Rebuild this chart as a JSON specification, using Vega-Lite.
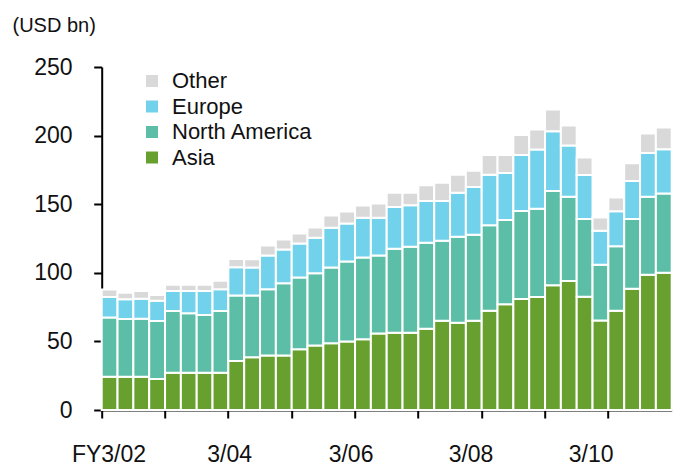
{
  "$schema": "https://vega.github.io/schema/vega-lite/v6.json",
  "autosize": {"type": "none"},
  "padding": {"left": 101.7, "top": 67, "right": 1.3, "bottom": 54},
  "width": 570,
  "height": 343,
  "background": "white",
  "config": {
    "view": {"stroke": null},
    "font": "Liberation Sans",
    "axis": {
      "domainColor": "#000000",
      "domainWidth": 2,
      "tickColor": "#000000",
      "tickWidth": 2,
      "labelColor": "#111111",
      "labelFont": "Liberation Sans",
      "grid": false
    }
  },
  "datasets": {
    "exports": [
      {"q": 0, "region": "Asia", "value": 24.3}, {"q": 0, "region": "North America", "value": 43.2}, {"q": 0, "region": "Europe", "value": 14.8}, {"q": 0, "region": "Other", "value": 5.6},
      {"q": 1, "region": "Asia", "value": 24.3}, {"q": 1, "region": "North America", "value": 42.0}, {"q": 1, "region": "Europe", "value": 14.5}, {"q": 1, "region": "Other", "value": 4.6},
      {"q": 2, "region": "Asia", "value": 24.3}, {"q": 2, "region": "North America", "value": 42.2}, {"q": 2, "region": "Europe", "value": 14.5}, {"q": 2, "region": "Other", "value": 5.7},
      {"q": 3, "region": "Asia", "value": 22.6}, {"q": 3, "region": "North America", "value": 42.2}, {"q": 3, "region": "Europe", "value": 14.8}, {"q": 3, "region": "Other", "value": 4.2},
      {"q": 4, "region": "Asia", "value": 27.2}, {"q": 4, "region": "North America", "value": 44.9}, {"q": 4, "region": "Europe", "value": 14.6}, {"q": 4, "region": "Other", "value": 4.6},
      {"q": 5, "region": "Asia", "value": 27.2}, {"q": 5, "region": "North America", "value": 43.4}, {"q": 5, "region": "Europe", "value": 16.1}, {"q": 5, "region": "Other", "value": 4.6},
      {"q": 6, "region": "Asia", "value": 27.2}, {"q": 6, "region": "North America", "value": 42.0}, {"q": 6, "region": "Europe", "value": 17.5}, {"q": 6, "region": "Other", "value": 4.6},
      {"q": 7, "region": "Asia", "value": 27.2}, {"q": 7, "region": "North America", "value": 44.9}, {"q": 7, "region": "Europe", "value": 16.0}, {"q": 7, "region": "Other", "value": 6.1},
      {"q": 8, "region": "Asia", "value": 35.7}, {"q": 8, "region": "North America", "value": 47.8}, {"q": 8, "region": "Europe", "value": 20.5}, {"q": 8, "region": "Other", "value": 6.0},
      {"q": 9, "region": "Asia", "value": 38.4}, {"q": 9, "region": "North America", "value": 45.0}, {"q": 9, "region": "Europe", "value": 20.5}, {"q": 9, "region": "Other", "value": 6.0},
      {"q": 10, "region": "Asia", "value": 39.8}, {"q": 10, "region": "North America", "value": 48.3}, {"q": 10, "region": "Europe", "value": 24.6}, {"q": 10, "region": "Other", "value": 7.2},
      {"q": 11, "region": "Asia", "value": 39.8}, {"q": 11, "region": "North America", "value": 52.5}, {"q": 11, "region": "Europe", "value": 24.7}, {"q": 11, "region": "Other", "value": 7.3},
      {"q": 12, "region": "Asia", "value": 44.2}, {"q": 12, "region": "North America", "value": 52.4}, {"q": 12, "region": "Europe", "value": 24.8}, {"q": 12, "region": "Other", "value": 7.3},
      {"q": 13, "region": "Asia", "value": 47.1}, {"q": 13, "region": "North America", "value": 52.5}, {"q": 13, "region": "Europe", "value": 25.9}, {"q": 13, "region": "Other", "value": 7.6},
      {"q": 14, "region": "Asia", "value": 48.6}, {"q": 14, "region": "North America", "value": 55.3}, {"q": 14, "region": "Europe", "value": 28.9}, {"q": 14, "region": "Other", "value": 9.0},
      {"q": 15, "region": "Asia", "value": 50.0}, {"q": 15, "region": "North America", "value": 58.3}, {"q": 15, "region": "Europe", "value": 27.7}, {"q": 15, "region": "Other", "value": 8.7},
      {"q": 16, "region": "Asia", "value": 51.5}, {"q": 16, "region": "North America", "value": 59.7}, {"q": 16, "region": "Europe", "value": 28.9}, {"q": 16, "region": "Other", "value": 9.0},
      {"q": 17, "region": "Asia", "value": 55.8}, {"q": 17, "region": "North America", "value": 56.9}, {"q": 17, "region": "Europe", "value": 27.4}, {"q": 17, "region": "Other", "value": 10.4},
      {"q": 18, "region": "Asia", "value": 56.3}, {"q": 18, "region": "North America", "value": 61.2}, {"q": 18, "region": "Europe", "value": 30.4}, {"q": 18, "region": "Other", "value": 10.4},
      {"q": 19, "region": "Asia", "value": 56.3}, {"q": 19, "region": "North America", "value": 62.6}, {"q": 19, "region": "Europe", "value": 30.4}, {"q": 19, "region": "Other", "value": 9.0},
      {"q": 20, "region": "Asia", "value": 59.2}, {"q": 20, "region": "North America", "value": 62.7}, {"q": 20, "region": "Europe", "value": 30.5}, {"q": 20, "region": "Other", "value": 11.5},
      {"q": 21, "region": "Asia", "value": 65.0}, {"q": 21, "region": "North America", "value": 58.3}, {"q": 21, "region": "Europe", "value": 29.1}, {"q": 21, "region": "Other", "value": 13.2},
      {"q": 22, "region": "Asia", "value": 63.6}, {"q": 22, "region": "North America", "value": 62.6}, {"q": 22, "region": "Europe", "value": 32.1}, {"q": 22, "region": "Other", "value": 13.1},
      {"q": 23, "region": "Asia", "value": 65.0}, {"q": 23, "region": "North America", "value": 62.7}, {"q": 23, "region": "Europe", "value": 34.9}, {"q": 23, "region": "Other", "value": 11.7},
      {"q": 24, "region": "Asia", "value": 72.3}, {"q": 24, "region": "North America", "value": 62.4}, {"q": 24, "region": "Europe", "value": 36.7}, {"q": 24, "region": "Other", "value": 14.5},
      {"q": 25, "region": "Asia", "value": 77.0}, {"q": 25, "region": "North America", "value": 61.4}, {"q": 25, "region": "Europe", "value": 34.4}, {"q": 25, "region": "Other", "value": 13.1},
      {"q": 26, "region": "Asia", "value": 80.9}, {"q": 26, "region": "North America", "value": 64.1}, {"q": 26, "region": "Europe", "value": 40.8}, {"q": 26, "region": "Other", "value": 14.6},
      {"q": 27, "region": "Asia", "value": 82.3}, {"q": 27, "region": "North America", "value": 64.3}, {"q": 27, "region": "Europe", "value": 43.3}, {"q": 27, "region": "Other", "value": 14.5},
      {"q": 28, "region": "Asia", "value": 91.0}, {"q": 28, "region": "North America", "value": 68.7}, {"q": 28, "region": "Europe", "value": 43.5}, {"q": 28, "region": "Other", "value": 15.8},
      {"q": 29, "region": "Asia", "value": 94.0}, {"q": 29, "region": "North America", "value": 61.4}, {"q": 29, "region": "Europe", "value": 37.4}, {"q": 29, "region": "Other", "value": 14.6},
      {"q": 30, "region": "Asia", "value": 82.5}, {"q": 30, "region": "North America", "value": 56.8}, {"q": 30, "region": "Europe", "value": 31.9}, {"q": 30, "region": "Other", "value": 12.9},
      {"q": 31, "region": "Asia", "value": 65.3}, {"q": 31, "region": "North America", "value": 40.5}, {"q": 31, "region": "Europe", "value": 24.8}, {"q": 31, "region": "Other", "value": 9.7},
      {"q": 32, "region": "Asia", "value": 72.3}, {"q": 32, "region": "North America", "value": 47.1}, {"q": 32, "region": "Europe", "value": 25.5}, {"q": 32, "region": "Other", "value": 10.0},
      {"q": 33, "region": "Asia", "value": 88.3}, {"q": 33, "region": "North America", "value": 51.0}, {"q": 33, "region": "Europe", "value": 27.7}, {"q": 33, "region": "Other", "value": 12.9},
      {"q": 34, "region": "Asia", "value": 98.5}, {"q": 34, "region": "North America", "value": 56.9}, {"q": 34, "region": "Europe", "value": 32.0}, {"q": 34, "region": "Other", "value": 14.1},
      {"q": 35, "region": "Asia", "value": 100.0}, {"q": 35, "region": "North America", "value": 57.8}, {"q": 35, "region": "Europe", "value": 32.3}, {"q": 35, "region": "Other", "value": 15.8}
    ]
  },
  "data": {"name": "exports"},
  "transform": [
    {"calculate": "indexof(['Asia', 'North America', 'Europe', 'Other'], datum.region)", "as": "stackRank"}
  ],
  "mark": {"type": "bar", "stroke": "white", "strokeWidth": 2},
  "encoding": {
    "x": {
      "field": "q",
      "type": "ordinal",
      "scale": {"paddingInner": 0, "paddingOuter": 0},
      "axis": {
        "title": null,
        "values": [0, 4, 8, 12, 16, 20, 24, 28, 32],
        "bandPosition": 0,
        "tickSize": 8,
        "labelAngle": 0,
        "labelAlign": "center",
        "labelBaseline": "alphabetic",
        "labelPadding": 43.5,
        "labelFontSize": 23,
        "labelOverlap": false,
        "labelBound": false,
        "labelExpr": "datum.value == 0 ? 'FY3/02' : datum.value == 8 ? '3/04' : datum.value == 16 ? '3/06' : datum.value == 24 ? '3/08' : datum.value == 32 ? '3/10' : ''",
        "labelOffset": {
          "condition": [
            {"test": "datum.value == 8", "value": -6.6},
            {"test": "datum.value == 16", "value": -11.9},
            {"test": "datum.value == 24", "value": -18.6},
            {"test": "datum.value == 32", "value": -25.2}
          ],
          "value": -0.6
        },
        "encode": {
          "ticks": {"update": {"y2": {"value": -8}}}
        }
      }
    },
    "y": {
      "field": "value",
      "type": "quantitative",
      "stack": "zero",
      "scale": {"domain": [0, 250], "nice": false},
      "axis": {
        "values": [0, 50, 100, 150, 200, 250],
        "tickSize": 8,
        "labelPadding": 21.7,
        "labelFontSize": 23,
        "labelBaseline": "middle",
        "encode": {"ticks": {"update": {"x2": {"value": 8}}}},
        "title": "(USD bn)",
        "titleAngle": 0,
        "titleAlign": "left",
        "titleBaseline": "middle",
        "titleX": -89.7,
        "titleY": -42,
        "titleFontSize": 20,
        "titleFontWeight": "normal",
        "titleColor": "#111111",
        "titleFont": "Liberation Sans"
      }
    },
    "color": {
      "field": "region",
      "type": "nominal",
      "scale": {
        "domain": ["Other", "Europe", "North America", "Asia"],
        "range": ["#d9d9d9", "#73d2eb", "#5cbea6", "#67a02e"]
      },
      "legend": {
        "title": null,
        "orient": "none",
        "legendX": 39.3,
        "legendY": 3,
        "padding": 0,
        "symbolType": "square",
        "symbolSize": 144,
        "symbolStrokeWidth": 0,
        "labelFontSize": 22,
        "labelColor": "#111111",
        "labelOffset": 9,
        "rowPadding": 3.5
      }
    },
    "order": {"field": "stackRank", "type": "quantitative", "sort": "ascending"}
  }
}
